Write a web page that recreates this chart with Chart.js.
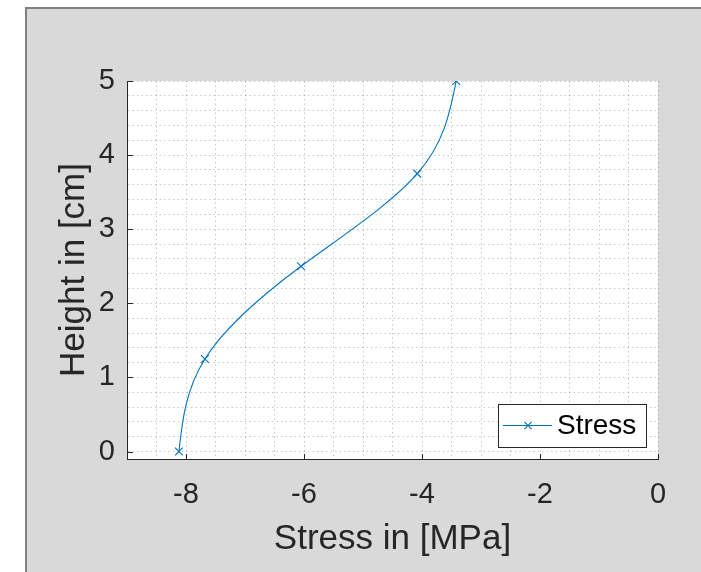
<!DOCTYPE html>
<html><head><meta charset="utf-8">
<script src="https://cdn.jsdelivr.net/npm/chart.js@4/dist/chart.umd.min.js"></script>
<style>
html,body{margin:0;padding:0;background:#fff;width:701px;height:572px;overflow:hidden;}
#fig{position:absolute;left:25px;top:7px;width:676px;height:565px;background:#d9d9d9;border-top:2px solid #808080;border-left:2px solid #808080;box-sizing:border-box;}
#wrap{position:absolute;left:0;top:0;width:701px;height:572px;}
</style></head><body>
<div id="fig"></div>
<div id="wrap"><canvas id="c" width="701" height="572"></canvas></div>
<script>
// ---- data ----
const seriesName = 'Stress';
const heights = [0, 1.25, 2.5, 3.75, 5];
const stress = [-8.12, -7.68, -6.05, -4.08, -3.42];
const xMajorTicks = [-8, -6, -4, -2, 0];
const yMajorTicks = [0, 1, 2, 3, 4, 5];
const xLimits = [-9, 0];
const yLimits = [-0.1, 5];
const xMinorStep = 0.5;
const yMinorStep = 0.2;
const xTitle = 'Stress in [MPa]';
const yTitle = 'Height in [cm]';

const FONT = "'Liberation Sans', Arial, Helvetica, sans-serif";
const AX = '#262626';
const LINE = '#0072BD';
const GRID = 'rgba(38,38,38,0.25)';

function stepTicks(lo, hi, step) {
  const out = [];
  const n0 = Math.ceil(lo / step - 1e-9), n1 = Math.floor(hi / step + 1e-9);
  for (let n = n0; n <= n1; n++) out.push({value: +(n * step).toFixed(6)});
  return out;
}
const isMajor = (v, arr) => arr.some(m => Math.abs(m - v) < 1e-6);

// natural cubic spline slopes dx/dy of the stress curve through the data points
function splineSlopes(t, v) {
  const n = t.length;
  const M = new Array(n).fill(0);
  if (n > 2) {
    const a = [], b = [], c = [], d = [];
    for (let i = 1; i < n - 1; i++) {
      const h0 = t[i] - t[i - 1], h1 = t[i + 1] - t[i];
      a.push(h0); b.push(2 * (h0 + h1)); c.push(h1);
      d.push(6 * ((v[i + 1] - v[i]) / h1 - (v[i] - v[i - 1]) / h0));
    }
    const m = b.length;
    for (let i = 1; i < m; i++) {
      const w = a[i] / b[i - 1];
      b[i] -= w * c[i - 1]; d[i] -= w * d[i - 1];
    }
    const sol = new Array(m);
    sol[m - 1] = d[m - 1] / b[m - 1];
    for (let i = m - 2; i >= 0; i--) sol[i] = (d[i] - c[i] * sol[i + 1]) / b[i];
    for (let i = 0; i < m; i++) M[i + 1] = sol[i];
  }
  const s = [];
  for (let i = 0; i < n; i++) {
    if (i < n - 1) {
      const h = t[i + 1] - t[i];
      s.push((v[i + 1] - v[i]) / h - h * (2 * M[i] + M[i + 1]) / 6);
    } else {
      const h = t[i] - t[i - 1];
      s.push((v[i] - v[i - 1]) / h + h * (M[i - 1] + 2 * M[i]) / 6);
    }
  }
  return s;
}

const smoothCurve = {
  id: 'smoothCurve',
  beforeDatasetDraw(chart, args) {
    const meta = chart.getDatasetMeta(args.index);
    const line = meta.dataset;
    if (!line || typeof line.updateControlPoints !== 'function') return;
    line.updateControlPoints(chart.chartArea, 'x');
    const sx = chart.scales.x, sy = chart.scales.y;
    const slopes = splineSlopes(heights, stress);
    const pts = meta.data;
    for (let i = 0; i < pts.length; i++) {
      const p = pts[i];
      if (i > 0) {
        const h = heights[i] - heights[i - 1];
        p.cp1x = sx.getPixelForValue(stress[i] - slopes[i] * h / 3);
        p.cp1y = sy.getPixelForValue(heights[i] - h / 3);
      }
      if (i < pts.length - 1) {
        const h = heights[i + 1] - heights[i];
        p.cp2x = sx.getPixelForValue(stress[i] + slopes[i] * h / 3);
        p.cp2y = sy.getPixelForValue(heights[i] + h / 3);
      }
    }
    line._path = undefined;
  }
};

const insideTicks = {
  id: 'insideTicks',
  beforeDraw(chart) {
    const {ctx, chartArea: a} = chart;
    ctx.save();
    ctx.fillStyle = '#ffffff';
    ctx.fillRect(a.left, a.top, a.right - a.left, a.bottom - a.top);
    ctx.restore();
  },
  afterDatasetsDraw(chart) {
    const {ctx, chartArea: a, scales} = chart;
    ctx.save();
    ctx.strokeStyle = AX;
    ctx.lineWidth = 1;
    ctx.beginPath();
    yMajorTicks.forEach(v => {
      const y = Math.round(scales.y.getPixelForValue(v)) + 0.5;
      ctx.moveTo(a.left, y); ctx.lineTo(a.left + 6, y);
    });
    xMajorTicks.forEach(v => {
      const x = Math.round(scales.x.getPixelForValue(v)) + 0.5;
      ctx.moveTo(x, a.bottom); ctx.lineTo(x, a.bottom - 5);
    });
    ctx.stroke();
    ctx.restore();
  }
};

const boxLegend = {
  id: 'boxLegend',
  afterDraw(chart) {
    const {ctx, chartArea: a} = chart;
    const ds = chart.data.datasets[0];
    const w = 148, h = 43;
    const x = Math.round(a.right - 12 - w), y = Math.round(a.bottom - 12 - h);
    ctx.save();
    ctx.fillStyle = '#ffffff';
    ctx.fillRect(x, y, w, h);
    ctx.strokeStyle = AX;
    ctx.lineWidth = 1;
    ctx.strokeRect(x + 0.5, y + 0.5, w, h);
    const cy = y + h / 2;
    ctx.strokeStyle = LINE;
    ctx.lineWidth = 1.1;
    ctx.beginPath();
    ctx.moveTo(x + 5, cy); ctx.lineTo(x + 54, cy);
    ctx.stroke();
    Chart.helpers.drawPoint(ctx, {pointStyle: 'crossRot', radius: 5, borderWidth: 1.1, rotation: 0}, x + 30, cy);
    ctx.fillStyle = '#000000';
    ctx.font = '28px ' + FONT;
    ctx.textBaseline = 'middle';
    ctx.textAlign = 'left';
    ctx.fillText(ds.label, x + 59, cy + 1);
    ctx.restore();
  }
};

new Chart(document.getElementById('c'), {
  type: 'scatter',
  data: {
    datasets: [{
      label: seriesName,
      data: stress.map((s, i) => ({x: s, y: heights[i]})),
      showLine: true,
      borderColor: LINE,
      backgroundColor: LINE,
      borderWidth: 1.1,
      tension: 0.4,
      pointStyle: 'crossRot',
      pointRadius: 5.5,
      pointBorderWidth: 1.1,
      pointBorderColor: LINE,
      pointHoverRadius: 5.5
    }]
  },
  options: {
    responsive: false,
    animation: false,
    devicePixelRatio: 1,
    layout: {padding: {top: 81, right: 43, left: 0, bottom: 0}},
    plugins: {legend: {display: false}, tooltip: {enabled: false}},
    scales: {
      x: {
        type: 'linear', min: xLimits[0], max: xLimits[1],
        afterBuildTicks: s => { s.ticks = stepTicks(xLimits[0], xLimits[1], xMinorStep); },
        afterFit: s => { s.height = 113; },
        grid: {color: GRID, lineWidth: 1, drawTicks: false},
        border: {display: true, color: AX, width: 1, dash: [1.5, 3]},
        ticks: {
          autoSkip: false, maxRotation: 0, padding: 19,
          color: AX, font: {family: FONT, size: 29},
          callback: v => isMajor(v, xMajorTicks) ? String(Math.round(v)) : ''
        },
        title: {display: true, text: xTitle, color: AX, font: {family: FONT, size: 35}, padding: {top: 12, bottom: 12}}
      },
      y: {
        type: 'linear', min: yLimits[0], max: yLimits[1],
        afterBuildTicks: s => { s.ticks = stepTicks(yLimits[0], yLimits[1], yMinorStep); },
        afterFit: s => { s.width = 127; },
        grid: {color: GRID, lineWidth: 1, drawTicks: false},
        border: {display: true, color: AX, width: 1, dash: [1.5, 3]},
        ticks: {
          autoSkip: false, padding: 12,
          color: AX, font: {family: FONT, size: 29},
          callback: v => isMajor(v, yMajorTicks) ? String(Math.round(v)) : ''
        },
        title: {display: true, text: yTitle, color: AX, font: {family: FONT, size: 35}, padding: {top: 53, bottom: 0}}
      }
    }
  },
  plugins: [insideTicks, smoothCurve, boxLegend]
});
</script>
</body></html>
